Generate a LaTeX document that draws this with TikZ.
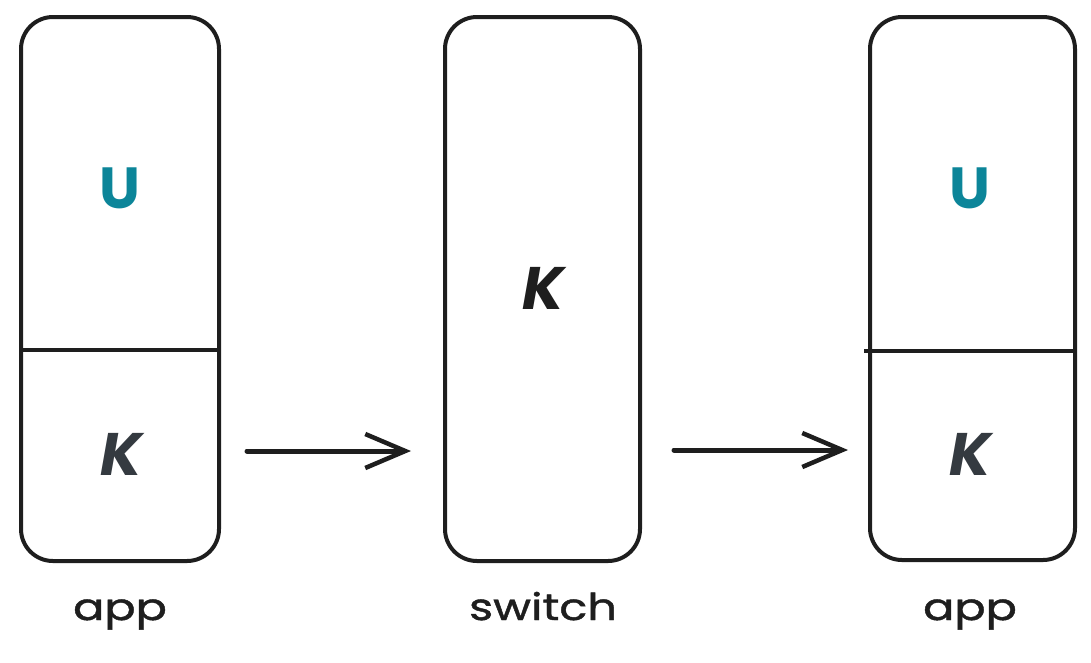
\documentclass[tikz,border=0pt]{standalone}
\usepackage{fontspec}
\setmainfont{Poppins}
\newfontfamily\lblfont[FakeStretch=1.25,FakeBold=1.2]{Poppins}
\usetikzlibrary{arrows.meta}
\definecolor{ink}{HTML}{1E1E1E}
\definecolor{kgray}{HTML}{343A40}
\definecolor{uteal}{HTML}{0C8599}
\tikzset{
  box/.style={draw=ink, line width=4pt, rounded corners=32pt, rectangle, inner sep=0pt},
  divider/.style={draw=ink, line width=4pt},
  arr/.style={draw=ink, line width=5pt, line cap=round, -{Straight Barb[length=40pt,width=34pt,line width=4.5pt]}},
  letterU/.style={text=uteal, font=\fontsize{58}{60}\selectfont\bfseries},
  letterK/.style={text=kgray, font=\fontsize{60}{62}\selectfont\bfseries\itshape},
  lbl/.style={text=ink, font=\lblfont\fontsize{37}{40}\selectfont, anchor=base}
}
\begin{document}
\begin{tikzpicture}[x=1pt,y=-1pt]
\useasboundingbox (0,0) rectangle (1091,662);
\node[box, minimum width=198pt, minimum height=544pt] (b1) at (120,289) {};
\node[box, minimum width=195pt, minimum height=544pt] (b2) at (542.5,289) {};
\node[box, minimum width=205pt, minimum height=543pt] (b3) at (972.5,288.5) {};
\coordinate (d1) at (120,350);
\coordinate (d3) at (972,351);
\draw[divider] (b1.west |- d1) -- (b1.east |- d1);
\draw[divider] ([xshift=-4pt]b3.west |- d3) -- (b3.east |- d3);
\node[letterU] (u1) at (120,188) {U};
\node[letterK] (k1) at (121,454) {K};
\node[letterK, text=ink] (k2) at (543,288) {K};
\node[letterU] (u3) at (970,188) {U};
\node[letterK] (k3) at (970,454) {K};
\node[lbl] (l1) at (120,620) {app};
\node[lbl] (l2) at (543,620) {switch};
\node[lbl] (l3) at (970,620) {app};
\draw[arr, shorten <=26pt, shorten >=32pt] (b1.east |- 0,451) -- (b2.west |- 0,451);
\draw[arr, shorten <=32pt, shorten >=20pt] (b2.east |- 0,450) -- (b3.west |- 0,450);
\end{tikzpicture}
\end{document}
